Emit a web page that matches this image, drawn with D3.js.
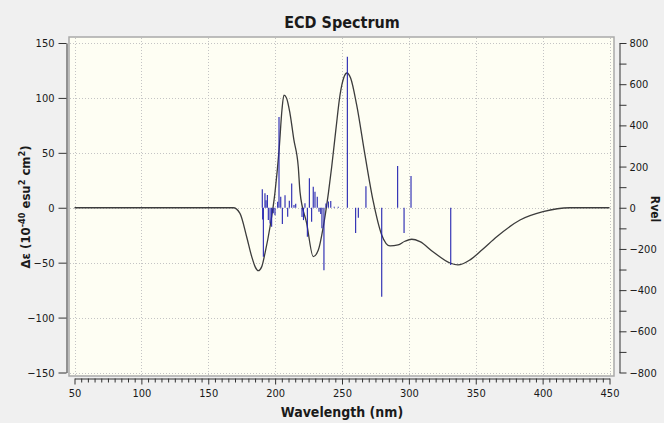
<!DOCTYPE html>
<html><head><meta charset="utf-8">
<script src="https://cdn.jsdelivr.net/npm/d3@7"></script>
<style>
html,body{margin:0;padding:0;background:#f0f0f0;overflow:hidden}
svg{display:block}
text{font-family:"DejaVu Sans Condensed","DejaVu Sans",sans-serif;fill:#1a1a1a}
</style></head><body>
<svg id="c" width="664" height="423"></svg>
<script>
const chartTitle = "ECD Spectrum";
const xTitle = "Wavelength (nm)";
const rightTitle = "Rvel";
const xTicks = [50,100,150,200,250,300,350,400,450];
const yTicksLeft = [-150,-100,-50,0,50,100,150];
const yTicksRight = [-800,-600,-400,-200,0,200,400,600,800];
const yMinorRight = [-700,-500,-300,-100,100,300,500,700];

// broadened ECD curve (wavelength nm, delta epsilon)
const curveNm = [50,100,150,165,168.7,173.7,178.7,182.5,185,187.4,190,192.4,196.2,199.9,203.1,205.1,206.6,208.5,211.1,214,217.3,218.6,223.6,228.5,232.3,236,239.8,242.3,245.5,248.5,251.5,253.7,256.5,261,267.2,273.4,279.7,285.9,291.9,297,302.1,308.3,318,330.8,336.7,345.7,355,365.7,383.1,400.3,420.5,435,450];
const curveDe = [0,0,0,0,0,-5.1,-26.4,-44.5,-53.6,-57.3,-53.6,-41.5,-17.3,14,55,89,102.5,100,86,62,37.3,14.5,-14.2,-44.5,-38.5,-17.3,13.1,37.3,72,102.5,119,122.7,118,93.4,47.9,5.5,-24.8,-34.8,-33.9,-30.5,-28.7,-30.9,-40,-50.3,-52.1,-47.5,-38,-26.4,-11.2,-3.6,0,0,0];

// rotatory strengths (sticks)
const stickNm = [190.4,190.7,191.2,192.4,193.2,194.2,194.9,196.2,197.4,198.6,199.9,201.9,202.9,204.2,205.4,207.4,209.4,210.6,212.4,214.1,215.4,220.1,221.2,222.3,224.1,225.6,227.3,228.5,229.8,231.5,232.8,234.1,235.0,236.5,238.0,239.8,241.6,244.2,247.2,254.0,260.2,262.2,267.9,279.7,291.6,296.4,301.6,331.3];
const stickR = [90,-57,-238,70,37,62,-60,-76,-92,-27,-36,29,441,53,-79,61,-44,34,118,13,20,-45,-60,22,-141,143,-68,102,78,53,-19,-30,-100,-303,21,30,33,5,5,733,-123,-49,105,-432,203,-123,154,-278];

const svg = d3.select("#c");
const x = d3.scaleLinear().domain([50,450]).range([74.5,609.5]);
const yL = d3.scaleLinear().domain([-150,150]).range([372.5,43]);
const yR = d3.scaleLinear().domain([-800,800]).range([372.5,43]);

const P = {l:69, t:37, r:614, b:376};

// plot background + frame
svg.append("rect").attr("x",P.l).attr("y",P.t).attr("width",P.r-P.l).attr("height",P.b-P.t)
  .attr("fill","#fefef3").attr("stroke","#a9a9a9").attr("stroke-width",1.5);

svg.append("clipPath").attr("id","clip").append("rect")
  .attr("x",P.l+1).attr("y",P.t+1).attr("width",P.r-P.l-2).attr("height",P.b-P.t-2);

// grid
const grid = svg.append("g").attr("stroke","#c4c4c4").attr("stroke-width",1).attr("stroke-dasharray","1,2");
grid.selectAll("line.v").data(xTicks).join("line")
  .attr("x1",d=>Math.round(x(d))+0.5).attr("x2",d=>Math.round(x(d))+0.5)
  .attr("y1",P.t+1).attr("y2",P.b-1);
grid.selectAll("line.h").data(yTicksLeft).join("line")
  .attr("y1",d=>Math.round(yL(d))+0.5).attr("y2",d=>Math.round(yL(d))+0.5)
  .attr("x1",P.l+1).attr("x2",P.r-1);

const plot = svg.append("g").attr("clip-path","url(#clip)");

// curve
const line = d3.line().x(d=>x(d[0])).y(d=>yL(d[1])).curve(d3.curveMonotoneX);
plot.append("path").datum(curveNm.map((n,i)=>[n,curveDe[i]]))
  .attr("d",line).attr("fill","none").attr("stroke","#3c3c3c").attr("stroke-width",1.3);

// sticks
plot.selectAll("line.stick").data(stickNm.map((n,i)=>({n, r:stickR[i]}))).join("line")
  .attr("class","stick")
  .attr("x1",d=>x(d.n)).attr("x2",d=>x(d.n))
  .attr("y1",yR(0)).attr("y2",d=>yR(d.r))
  .attr("stroke","#2424b0").attr("stroke-width",1.1);

// axes
function styleAxis(g){
  g.selectAll("path.domain").attr("stroke","#333").attr("stroke-width",1);
  g.selectAll(".tick line").attr("stroke","#333");
  g.selectAll(".tick text").attr("font-size","11px").attr("fill","#222")
    .style("font-family",'"DejaVu Sans Condensed","DejaVu Sans",sans-serif');
}
// left axis
const gl = svg.append("g").attr("transform","translate(66.5,0)")
  .call(d3.axisLeft(yL).tickValues(yTicksLeft).tickSize(8).tickSizeOuter(0).tickPadding(4));
styleAxis(gl);

// right axis
const gr = svg.append("g").attr("transform","translate(619.5,0)")
  .call(d3.axisRight(yR).tickValues(yTicksRight).tickSize(7).tickSizeOuter(0).tickPadding(3));
styleAxis(gr);
svg.append("g").attr("transform","translate(619.5,0)")
  .call(d3.axisRight(yR).tickValues(yMinorRight).tickSize(7).tickSizeOuter(0).tickFormat(""))
  .call(g=>{g.select("path.domain").remove(); g.selectAll(".tick line").attr("stroke","#333");});

// bottom axis
const minorX = d3.range(50,451,5).filter(v=>v%50!==0);
const gb = svg.append("g").attr("transform","translate(0,378.5)")
  .call(d3.axisBottom(x).tickValues(xTicks).tickSize(6).tickSizeOuter(0).tickPadding(5));
styleAxis(gb);
svg.append("g").attr("transform","translate(0,378.5)")
  .call(d3.axisBottom(x).tickValues(minorX).tickSize(4).tickSizeOuter(0).tickFormat(""))
  .call(g=>{g.select("path.domain").remove(); g.selectAll(".tick line").attr("stroke","#333");});

// titles
svg.append("text").attr("x",342).attr("y",28).attr("text-anchor","middle")
  .attr("font-size","16px").attr("font-weight","bold").text(chartTitle);
svg.append("text").attr("x",342).attr("y",417).attr("text-anchor","middle")
  .attr("font-size","14px").attr("font-weight","bold").text(xTitle);

const yt = svg.append("text").attr("transform","translate(30,207) rotate(-90)")
  .attr("text-anchor","middle").attr("font-size","13px").attr("font-weight","bold");
yt.append("tspan").text("Δε (10");
yt.append("tspan").attr("dy","-5").attr("font-size","9px").text("-40");
yt.append("tspan").attr("dy","5").text(" esu");
yt.append("tspan").attr("dy","-5").attr("font-size","9px").text("2");
yt.append("tspan").attr("dy","5").text(" cm");
yt.append("tspan").attr("dy","-5").attr("font-size","9px").text("2");
yt.append("tspan").attr("dy","5").text(")");

svg.append("text").attr("transform","translate(651,209) rotate(90)")
  .attr("text-anchor","middle").attr("font-size","12px").attr("font-weight","bold").text(rightTitle);
</script>
</body></html>
